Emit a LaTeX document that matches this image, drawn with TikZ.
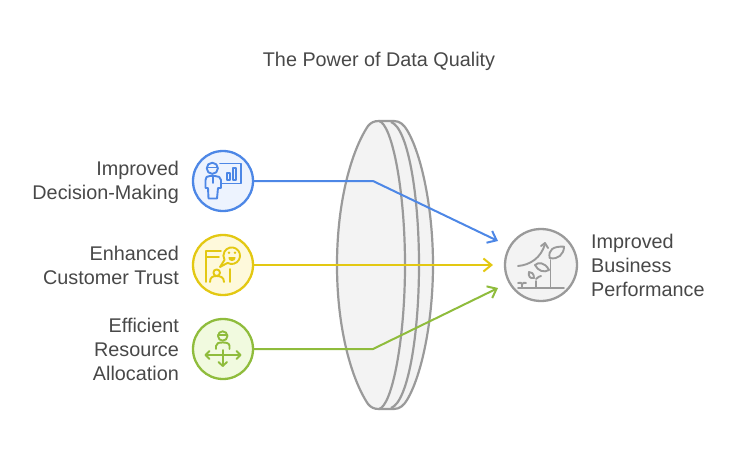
\documentclass[tikz,border=0pt]{standalone}
\usepackage{fontspec}
\setmainfont{Liberation Sans}
\usetikzlibrary{arrows.meta}
\definecolor{cblue}{HTML}{4D87E6}\definecolor{fblue}{HTML}{EDF3FE}
\definecolor{cyel}{HTML}{E3C812}\definecolor{fyel}{HTML}{FEF9DB}
\definecolor{cgrn}{HTML}{8FBC3C}\definecolor{fgrn}{HTML}{F1FADF}
\definecolor{cgry}{HTML}{9A9A9A}\definecolor{fgry}{HTML}{F3F3F3}
\definecolor{ctxt}{HTML}{484848}
\tikzset{
 lab/.style={text=ctxt,font=\fontsize{19.8}{24}\selectfont,inner sep=0pt},
 bub/.style={circle,draw=#1,line width=2.3pt,minimum size=60pt,inner sep=0pt},
 conn/.style={draw=#1,line width=2pt,-{Straight Barb[length=8pt,width=13pt,line width=2pt]}},
 ico/.style={draw=#1,line width=1.9pt,line cap=round,line join=round,fill=none},
 lens/.style={draw=cgry,line width=2.2pt,fill=fgry,line join=round}
}
\begin{document}
\begin{tikzpicture}[x=1pt,y=-1pt]
\useasboundingbox (0,0) rectangle (734,458);
\node[lab] (title) at (379,61) {The Power of Data Quality};
% lens
\path[lens] (379,121) -- (394,121) .. controls (400,121) and (404,125) .. (407,130)
  .. controls (422,155) and (433,210) .. (433,265)
  .. controls (433,320) and (422,375) .. (407,400)
  .. controls (404,405) and (400,409) .. (394,409) -- (379,409) -- cycle;
\path[lens,fill=none] (391,122) .. controls (408,128) and (419,195) .. (419,265)
  .. controls (419,335) and (408,402) .. (391,408);
\path[lens] (379,121) .. controls (392,124) and (405,190) .. (405,265)
  .. controls (405,340) and (392,406) .. (379,409)
  .. controls (374,409) and (371,407.5) .. (368,404)
  .. controls (352,380) and (337,330) .. (337,265)
  .. controls (337,200) and (352,150) .. (368,126)
  .. controls (371,122.5) and (374,121) .. (379,121) -- cycle;
% circles
\node[bub=cblue,fill=fblue] (a) at (223,181) {};
\node[bub=cyel,fill=fyel] (b) at (223,265) {};
\node[bub=cgrn,fill=fgrn] (c) at (223,349) {};
\node[bub=cgry,fill=fgry,minimum size=72pt] (d) at (541,265) {};
\coordinate (ea) at (498,241);
\coordinate (eb) at (493,265);
\coordinate (ec) at (498,288);
\coordinate (ba) at (373,181);
\coordinate (bc) at (373,349);
\draw[conn=cblue] (a) -- (ba) -- (ea);
\draw[conn=cyel] (b) -- (eb);
\draw[conn=cgrn] (c) -- (bc) -- (ec);
% labels
\node[lab,anchor=east,align=right] (la) at (179,182.5) {Improved\\Decision-Making};
\node[lab,anchor=east,align=right] (lb) at (179,265) {Enhanced\\Customer Trust};
\node[lab,anchor=east,align=right] (lc) at (179,349) {Efficient\\Resource\\Allocation};
\node[lab,anchor=west,align=left] (ld) at (591,265) {Improved\\Business\\Performance};
% icon 1
\draw[ico=cblue] (212.3,168.3) circle (5.6pt);
\draw[ico=cblue] (207,167.5) -- (217.5,167.5);
\draw[ico=cblue] (220,163.5) -- (241,163.5) -- (241,183.5) -- (222,183.5);
\draw[ico=cblue] (227,180) -- (227,173) -- (230,173) -- (230,180) -- cycle;
\draw[ico=cblue] (233,180) -- (233,168) -- (236,168) -- (236,180) -- cycle;
\draw[ico=cblue] (205.5,188) -- (205.5,180) .. controls (205.5,177) and (207,176) .. (210,176) -- (215,176)
 .. controls (218,176) and (221,177) .. (221,180) -- (221,188) -- (218,188) -- (217,198.5) -- (208.5,198.5) -- (208,188) -- cycle;
\draw[ico=cblue] (213,176) -- (213,183);
% icon 2
\draw[ico=cyel] (206,282) -- (206,251) -- (221,251);
\draw[ico=cyel] (206,257) -- (219,257);
\draw[ico=cyel] (230,269) -- (230,282);
\draw[ico=cyel] (227.55,262.9) arc[start angle=240,end angle=570,radius=8.3pt] -- (220,267) -- cycle;
\fill[cyel] (229,252.7) circle (1.3pt) (235,252.7) circle (1.3pt);
\fill[cyel] (228.5,257) -- (235.5,257) .. controls (235.5,260.5) and (233.5,261) .. (232,261) .. controls (230.5,261) and (228.5,260.5) .. (228.5,257) -- cycle;
\draw[ico=cyel] (216.7,272.7) circle (3.3pt);
\draw[ico=cyel] (210,282) .. controls (210,277) and (213,276) .. (216.7,276) .. controls (220,276) and (224,277) .. (224,282);
% icon 3
\draw[ico=cgrn] (222.7,336) circle (4.7pt);
\draw[ico=cgrn] (218,335) -- (227.4,335);
\draw[ico=cgrn] (216,349) -- (216,346) .. controls (216,343) and (219,342.5) .. (222.7,342.5) .. controls (226,342.5) and (229.5,343) .. (229.5,346) -- (229.5,349);
\draw[ico=cgrn] (205.5,355) -- (240.5,355);
\draw[ico=cgrn] (209.5,351) -- (205.5,355) -- (209.5,359);
\draw[ico=cgrn] (236.5,351) -- (240.5,355) -- (236.5,359);
\draw[ico=cgrn] (222.7,350) -- (222.7,366);
\draw[ico=cgrn] (218.5,362) -- (222.7,366) -- (227,362);
% icon 4
\draw[ico=cgry] (518,288) -- (564,288);
\draw[ico=cgry] (550.5,288) -- (550.5,260);
\draw[ico=cgry] (549.7,258) .. controls (548,250) and (553,246) .. (564,246.7) .. controls (564,254) and (558,260) .. (549.7,258) -- cycle;
\draw[ico=cgry] (549,270) .. controls (545,262) and (538,262) .. (535,265) .. controls (538,271) and (544,273) .. (549,270) -- cycle;
\draw[ico=cgry] (536,288) -- (536,281);
\draw[ico=cgry] (534,278) .. controls (534,273) and (531,272) .. (529,272) .. controls (528,276) and (530,279) .. (534,278) -- cycle;
\draw[ico=cgry] (536,279) .. controls (538,277) and (540,276) .. (541,276);
\draw[ico=cgry] (522,288) -- (522,284) .. controls (522,283) and (520,282) .. (518,283);
\draw[ico=cgry] (522,284) .. controls (523,283) and (525,282) .. (526,283);
\draw[ico=cgry] (518,266) .. controls (530,265) and (541,258) .. (545,244);
\draw[ico=cgry] (541,246) -- (545,243) -- (548,248);
\end{tikzpicture}
\end{document}
